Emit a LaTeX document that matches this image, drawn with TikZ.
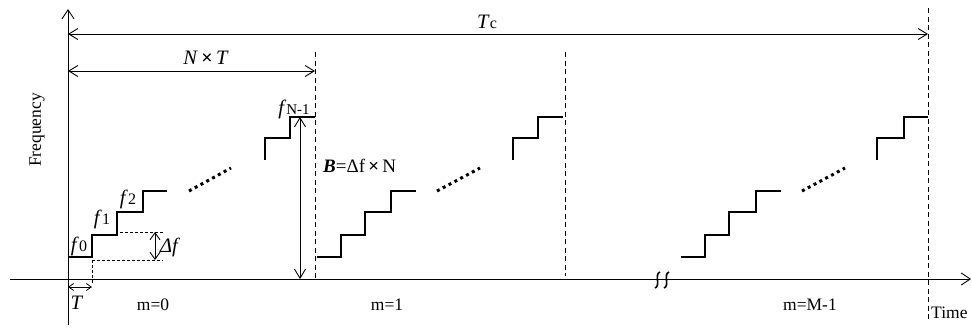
\documentclass[tikz,border=0pt]{standalone}
\usepackage{fontspec}
\setmainfont{Liberation Serif}
\usetikzlibrary{arrows.meta}
\begin{document}
\begin{tikzpicture}[x=1pt,y=-1pt,
  ax/.style={line width=0.9pt},
  stair/.style={line width=2pt},
  guide/.style={line width=0.9pt, dash pattern=on 5pt off 3.5pt},
  hdash/.style={line width=0.8pt, dash pattern=on 3pt off 2pt},
  dotline/.style={line width=3pt, dash pattern=on 3pt off 3.6pt},
  lbl/.style={font=\fontsize{17.5}{20}\selectfont, inner sep=0pt},
  ilbl/.style={font=\fontsize{20.5}{23}\selectfont, inner sep=0pt},
  barb/.style={{Straight Barb[length=9pt,width=11pt]}-{Straight Barb[length=9pt,width=11pt]}, line width=0.9pt},
  barbsmall/.style={{Straight Barb[length=5pt,width=7pt]}-{Straight Barb[length=5pt,width=7pt]}, line width=0.8pt},
  axarrow/.style={-{Straight Barb[length=9pt,width=12pt]}, line width=0.9pt},
  brk/.style={line width=1.6pt}
]
\useasboundingbox (0,0) rectangle (972,327);

% axes
\coordinate (ybot) at (68,325);
\coordinate (ytop) at (68,9);
\coordinate (xl) at (10,279);
\coordinate (xr) at (971,279);
\draw[axarrow] (ybot) -- (ytop);
\draw[axarrow] (xl) -- (xr);

% break mark on time axis
\draw[brk] (660,272) .. controls (654,274) and (661,286) .. (655,288);
\draw[brk] (669,272) .. controls (663,274) and (670,286) .. (664,288);

% vertical dashed guides
\coordinate (g1t) at (315,52);  \coordinate (g1b) at (315,279);
\coordinate (g2t) at (565,52);  \coordinate (g2b) at (565,276);
\coordinate (g3t) at (928,8);   \coordinate (g3b) at (928,322);
\draw[guide] (g1t) -- (g1b);
\draw[guide] (g2t) -- (g2b);
\draw[guide] (g3t) -- (g3b);

% Tc arrow
\coordinate (tcl) at (68,34); \coordinate (tcr) at (928,34);
\draw[barb] (tcl) -- (tcr);
\node[ilbl] (tc) at (487,22) {\textit{T}{\fontsize{16}{18}\selectfont c}};

% N x T arrow
\coordinate (ntl) at (68,71); \coordinate (ntr) at (315,71);
\draw[barb] (ntl) -- (ntr);
\node[ilbl] (nt) at (206,58) {\textit{N}\,{\fontsize{20}{22}\selectfont\bfseries ×}\,\textit{T}};

% staircases
\draw[stair] (68,257) -| (92,235) -| (117,212) -| (143,191) -- (167,191);
\draw[stair] (265,160) |- (290,138) |- (315,117);
\draw[dotline] (189,191) -- (231,168);

\draw[stair] (317,257) -| (341,235) -| (365,212) -| (391,191) -- (416,191);
\draw[stair] (513,160) |- (538,138) |- (563,117);
\draw[dotline] (437,191) -- (480,168);

\draw[stair] (681,257) -| (705,235) -| (729,212) -| (756,191) -- (781,191);
\draw[stair] (877,160) |- (904,138) |- (928,117);
\draw[dotline] (802,191) -- (845,168);

% delta f
\coordinate (dft1) at (120,232); \coordinate (dft2) at (163,232);
\coordinate (dfb1) at (92,260);  \coordinate (dfb2) at (163,260);
\draw[hdash] (dft1) -- (dft2);
\draw[hdash] (dfb1) -- (dfb2);
\coordinate (dfa) at (155,232); \coordinate (dfb) at (155,260);
\draw[{Straight Barb[length=7pt,width=10pt]}-{Straight Barb[length=7pt,width=10pt]}, line width=0.9pt] (dfa) -- (dfb);
\node[ilbl, anchor=west] (df) at (160,247) {\textit{Δf}};

% T
\coordinate (td1) at (92,260); \coordinate (td2) at (92,284);
\draw[hdash] (td1) -- (td2);
\coordinate (tal) at (68,287); \coordinate (tar) at (92,287);
\draw[barbsmall] (tal) -- (tar);
\node[ilbl] (tl) at (77,303) {\textit{T}};

% B arrow
\coordinate (ba) at (300,117); \coordinate (bb) at (300,279);
\draw[barb] (ba) -- (bb);
\node[lbl, anchor=west, font=\fontsize{19}{21}\selectfont] (bl) at (323,166) {\textbf{\textit{B}}=Δf\,{\bfseries ×}\,N};

% f labels
\node[ilbl] (f0) at (79,246) {\textit{f}{\fontsize{16}{18}\selectfont 0}};
\node[ilbl] (f1) at (102,219) {\textit{f}{\fontsize{16}{18}\selectfont 1}};
\node[ilbl] (f2) at (128,199) {\textit{f}{\fontsize{16}{18}\selectfont 2}};
\node[ilbl] (fn) at (294,109) {\textit{f}{\fontsize{15}{17}\selectfont N-1}};

% other labels
\node[lbl, rotate=90] (freq) at (37,130) {Frequency};
\node[lbl] (m0) at (153,305) {m=0};
\node[lbl] (m1) at (387,305) {m=1};
\node[lbl] (mm) at (810,305) {m=M-1};
\node[lbl, anchor=west] (time) at (931,313) {Time};
\end{tikzpicture}
\end{document}
